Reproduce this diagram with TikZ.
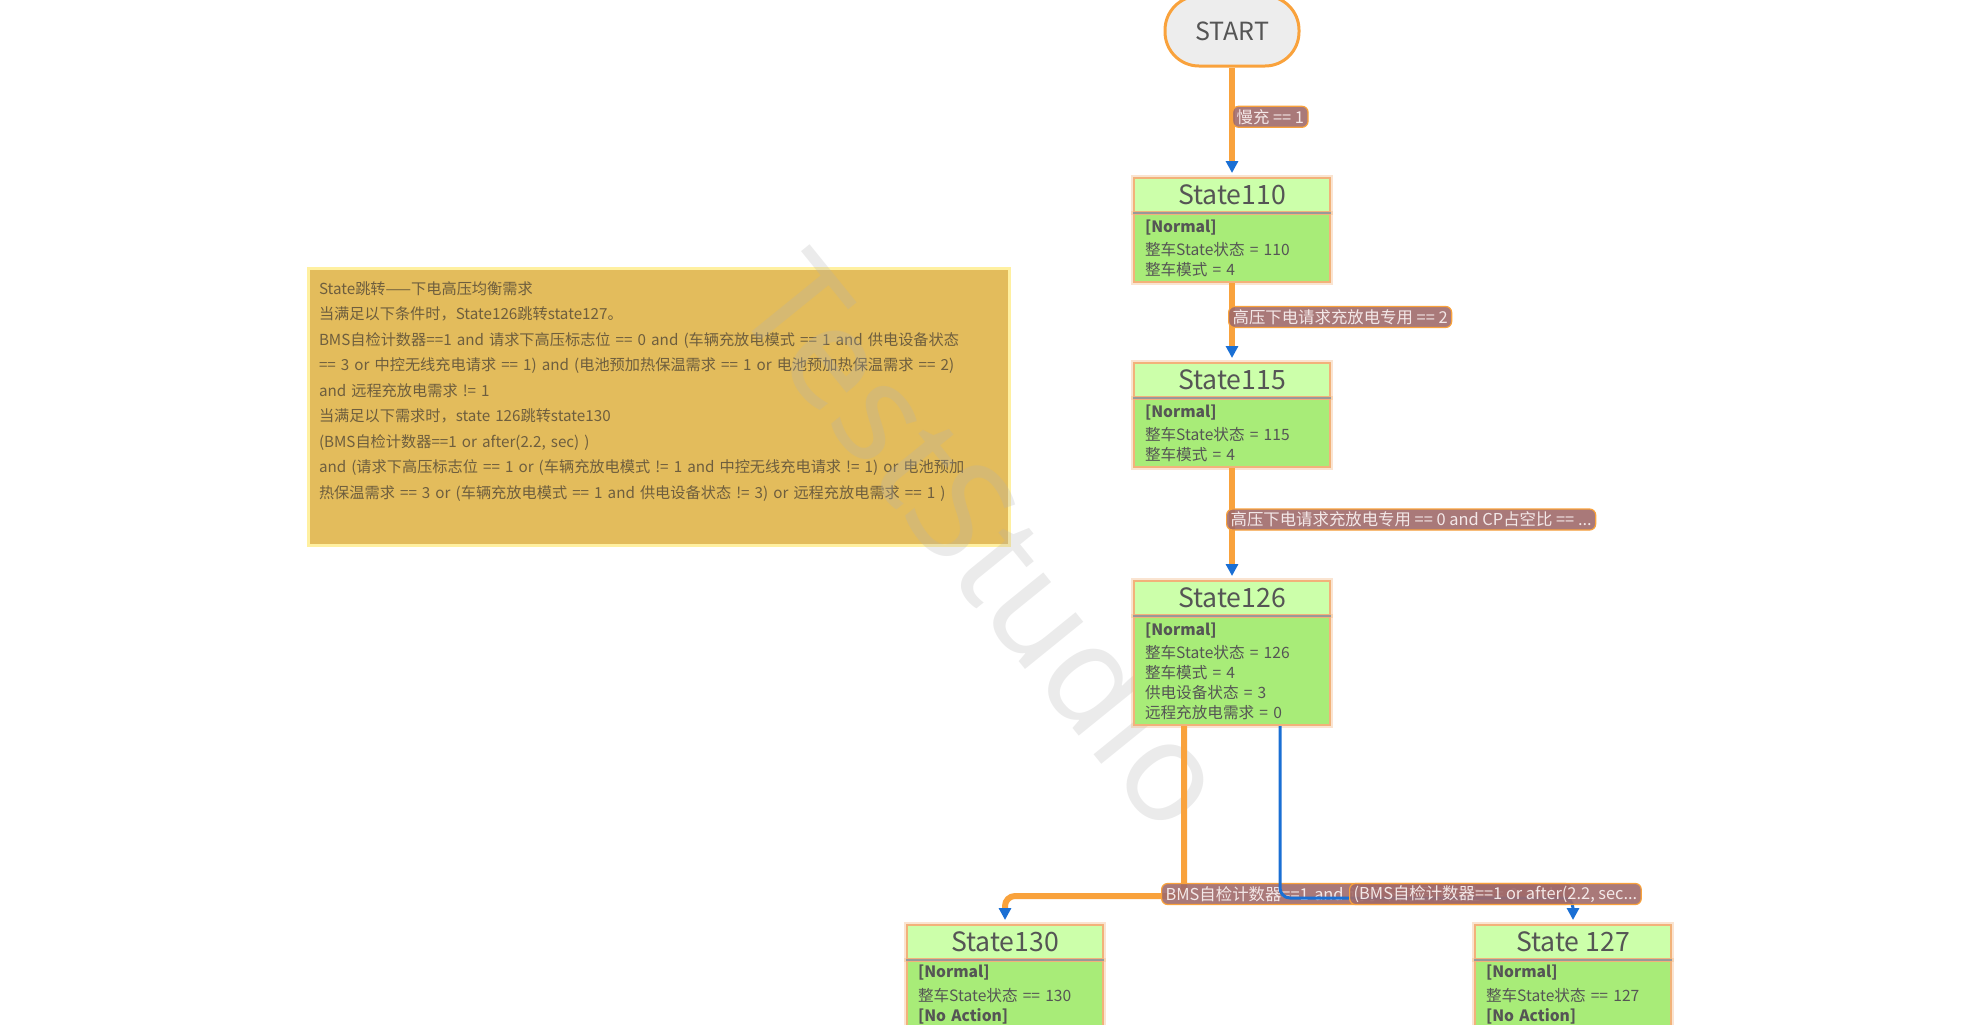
\documentclass[tikz,border=0pt]{standalone}
\usepackage{fontspec}
\setmainfont{Noto Sans CJK SC}
\newfontfamily\wmfont{Noto Sans}
\usetikzlibrary{arrows.meta,positioning}

\definecolor{hdrgreen}{HTML}{CCFFAA}
\definecolor{bodygreen}{HTML}{A8EC78}
\definecolor{boxedge}{HTML}{F2B27A}
\definecolor{linkorange}{HTML}{F9A23C}
\definecolor{tipblue}{HTML}{1A6FD4}
\definecolor{lblfill}{HTML}{A06A6A}
\definecolor{lbltext}{HTML}{F3E8E8}
\definecolor{notefill}{HTML}{E3BC5C}
\definecolor{noteedge}{HTML}{FFF0A0}
\definecolor{notetext}{HTML}{6E5E3E}
\definecolor{statetext}{HTML}{555555}

\tikzset{
  startnode/.style={rectangle, rounded corners=17pt, fill=black!7, draw=linkorange,
    line width=1.5pt, minimum width=67pt, minimum height=35pt,
    text=statetext, font=\fontsize{12.5}{14}\selectfont},
  glow/.style={preaction={draw=boxedge, line width=3pt, draw opacity=0.35}},
  stitle/.style={rectangle, glow, fill=hdrgreen, draw=boxedge, line width=1pt,
    minimum width=98pt, minimum height=17pt, inner sep=0pt,
    text=statetext, font=\fontsize{13.3}{14}\selectfont},
  sbody/.style={rectangle, glow, fill=bodygreen, draw=boxedge, line width=1pt,
    minimum width=98pt, text width=87pt, inner xsep=5.5pt, inner ysep=1pt,
    align=left, text=statetext, font=\fontsize{7.8}{10}\selectfont},
  divider/.style={draw=black!40, line width=0.8pt},
  link/.style={draw=linkorange, line width=3pt, shorten >=2pt,
    -{Triangle[color=tipblue, width=6pt, length=6pt]}},
  sel/.style={draw=tipblue, line width=1.5pt, shorten >=2pt,
    -{Triangle[color=tipblue, width=6pt, length=6pt]}},
  cond/.style={rectangle, rounded corners=3pt, fill=lblfill, fill opacity=0.9,
    text opacity=1, draw=linkorange, line width=0.6pt, text=lbltext,
    inner xsep=2pt, inner ysep=1pt, minimum height=10.5pt, anchor=west,
    font=\fontsize{8.2}{9}\selectfont},
  note/.style={rectangle, fill=notefill, draw=noteedge, line width=1.5pt,
    minimum width=350.5pt, minimum height=138.5pt, text width=339.5pt,
    inner xsep=5.5pt, align=left, text=notetext,
    font=\fontsize{7.6}{12.75}\selectfont},
  wmark/.style={rotate=-51, text=black!30, opacity=0.26,
    font=\wmfont\fontsize{70}{70}\selectfont}
}

\begin{document}
\begin{tikzpicture}[x=0.5pt,y=-0.5pt]
	\useasboundingbox (0,0) rectangle (1980,1024);

	% requirement note
	\node[note] (memo) at (658.5,406.5) {State跳转——下电高压均衡需求\\
		当满足以下条件时，State126跳转state127。\\
		BMS自检计数器==1 and 请求下高压标志位 == 0 and (车辆充放电模式 == 1 and 供电设备状态\\
		== 3 or 中控无线充电请求 == 1) and (电池预加热保温需求 == 1 or 电池预加热保温需求 == 2)\\
		and 远程充放电需求 != 1\\
		当满足以下需求时，state 126跳转state130\\
		(BMS自检计数器==1 or after(2.2, sec) )\\
		and (请求下高压标志位 == 1 or (车辆充放电模式 != 1 and 中控无线充电请求 != 1) or 电池预加\\
		热保温需求 == 3 or (车辆充放电模式 == 1 and 供电设备状态 != 3) or 远程充放电需求 == 1 )\\
		\strut};

	\node[wmark] (wm) at (988,540) {TestStudio};

	% states
	\node[startnode] (start) at (1232,31) {START};

	\node[stitle] (s110) at (1232,195) {State110};
	\node[sbody, below=0pt of s110, minimum height=34pt] (s110b) {\textbf{[Normal]}\\[1.5pt]
		整车State状态 = 110\\ 整车模式 = 4};

	\node[stitle] (s115) at (1232,380) {State115};
	\node[sbody, below=0pt of s115, minimum height=34pt] (s115b) {\textbf{[Normal]}\\[1.5pt]
		整车State状态 = 115\\ 整车模式 = 4};

	\node[stitle] (s126) at (1232,598) {State126};
	\node[sbody, below=0pt of s126, minimum height=54pt] (s126b) {\textbf{[Normal]}\\[1.5pt]
		整车State状态 = 126\\ 整车模式 = 4\\ 供电设备状态 = 3\\ 远程充放电需求 = 0};

	\node[stitle] (s130) at (1005,942) {State130};
	\node[sbody, below=0pt of s130, minimum height=34pt] (s130b) {\textbf{[Normal]}\\[2pt]
		整车State状态 == 130\\ \textbf{[No Action]}};

	\node[stitle] (s127) at (1573,942) {State 127};
	\node[sbody, below=0pt of s127, minimum height=34pt] (s127b) {\textbf{[Normal]}\\[2pt]
		整车State状态 == 127\\ \textbf{[No Action]}};

	\foreach \s in {s110,s115,s126,s130,s127}
		\draw[divider] (\s.south west) -- (\s.south east);

	% transitions
	\draw[link] (start) -- node[cond, pos=.45] {慢充 == 1} (s110);
	\draw[link] (s110b) -- node[cond, pos=.43, xshift=-2pt] {高压下电请求充放电专用 == 2} (s115);
	\draw[link] (s115b) -- node[cond, pos=.46, xshift=-3pt] {高压下电请求充放电专用 == 0 and CP占空比 == ...} (s126);

	\draw[link, rounded corners=5pt] ([xshift=-24pt]s126b.south) -- ++(0,170) -| (s130.north);
	\node[cond, text width=201pt, align=left] (c130) at (1161,894) {BMS自检计数器==1 and 请求下高压标志位 == 0 and};
	\draw[sel, rounded corners=5pt] ([xshift=24pt]s126b.south) -- ++(0,172) -| (s127.north);
	\node[cond] (c127) at (1349,894) {(BMS自检计数器==1 or after(2.2, sec...};
\end{tikzpicture}
\end{document}
